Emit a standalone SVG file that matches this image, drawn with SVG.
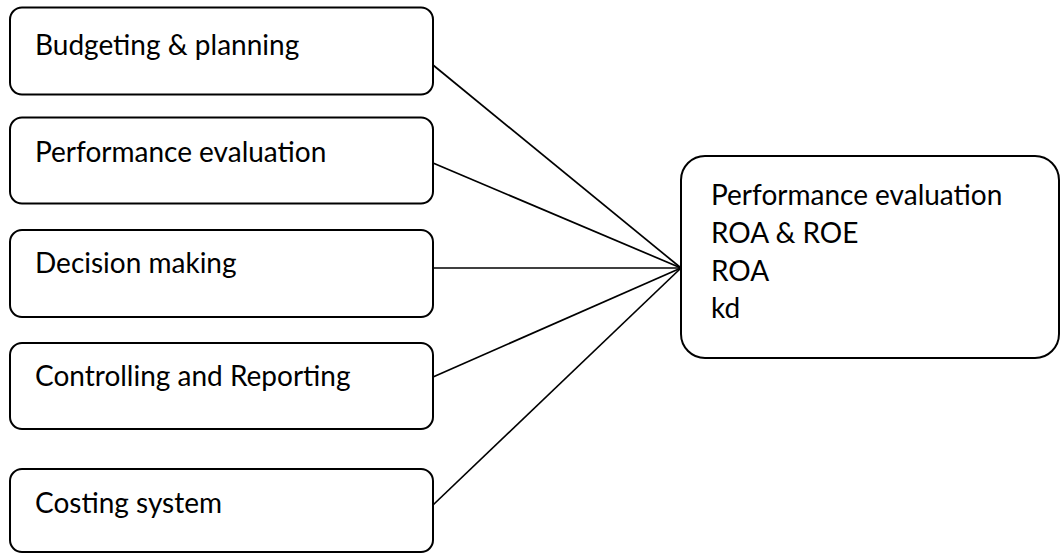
<svg xmlns="http://www.w3.org/2000/svg" width="1061" height="553" viewBox="0 0 1061 553">
<style>
.box{fill:#fff;stroke:#000;stroke-width:2}
.t{font-family:Lato,"Open Sans",sans-serif;font-size:28px;fill:#000}
.c line{stroke:#000;stroke-width:1.7}
</style>
<rect width="1061" height="553" fill="#fff"/>
<g class="c" id="connectors">
<line x1="433" y1="65" x2="681" y2="268"/>
<line x1="433" y1="163" x2="681" y2="268"/>
<line x1="433" y1="268" x2="681" y2="268"/>
<line x1="433" y1="377" x2="681" y2="268"/>
<line x1="433" y1="505" x2="681" y2="268"/>
</g>
<g id="n1"><rect class="box" x="10" y="7.5" width="423" height="87" rx="12"/><text class="t" x="35" y="55">Budgeting &amp; planning</text></g>
<g id="n2"><rect class="box" x="10" y="117.5" width="423" height="86" rx="12"/><text class="t" x="35" y="162">Performance evaluation</text></g>
<g id="n3"><rect class="box" x="10" y="230" width="423" height="87" rx="12"/><text class="t" x="35" y="273">Decision making</text></g>
<g id="n4"><rect class="box" x="10" y="343" width="423" height="86" rx="12"/><text class="t" x="35" y="386">Controlling and Reporting</text></g>
<g id="n5"><rect class="box" x="10" y="469" width="423" height="83" rx="12"/><text class="t" x="35" y="513">Costing system</text></g>
<g id="n6"><rect class="box" x="681" y="156" width="378" height="202" rx="24"/>
<text class="t" x="711" y="205">Performance evaluation</text>
<text class="t" x="711" y="243">ROA &amp; ROE</text>
<text class="t" x="711" y="281">ROA</text>
<text class="t" x="711" y="318">kd</text></g>
</svg>
